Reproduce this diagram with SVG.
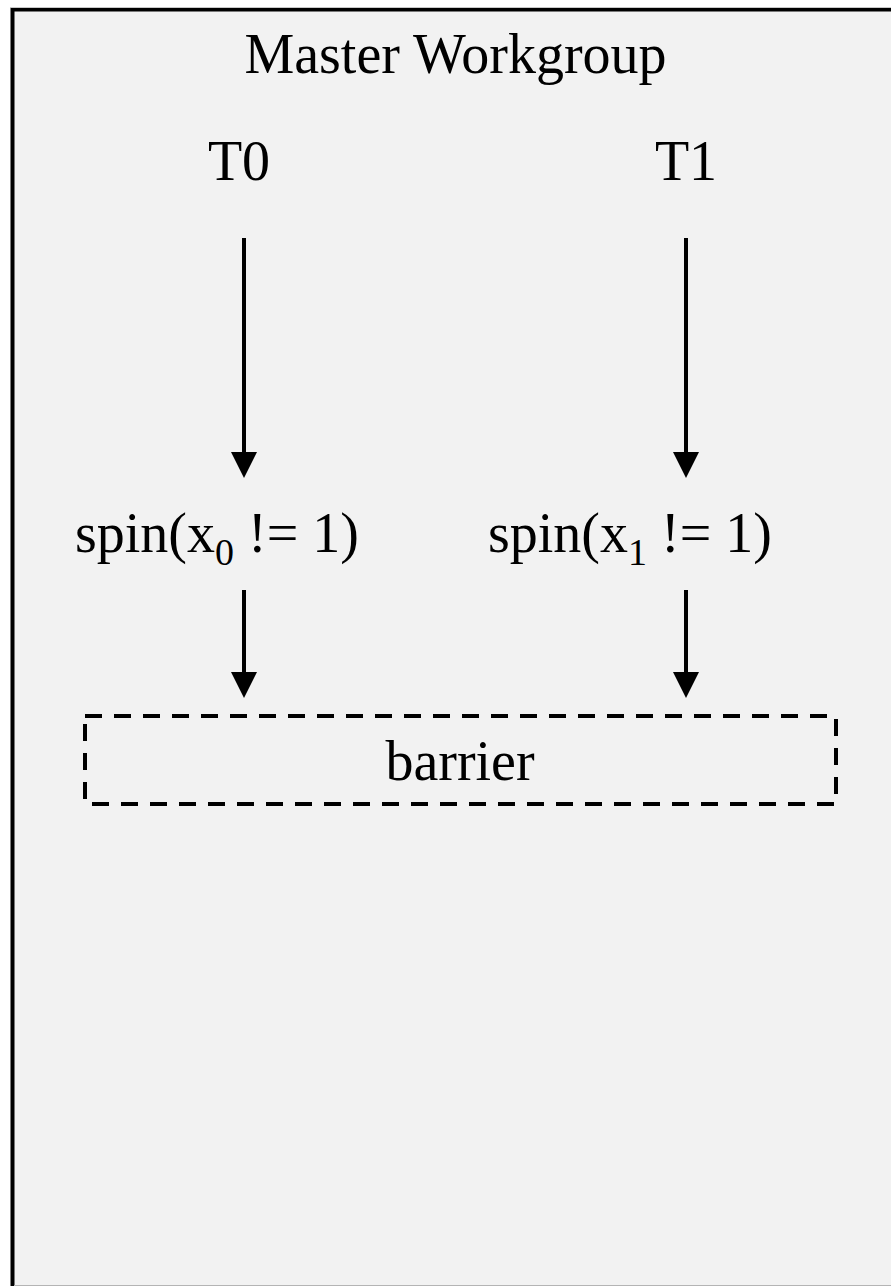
<svg xmlns="http://www.w3.org/2000/svg" width="891" height="1286" viewBox="0 0 891 1286">
  <style>
    .lbl { font-family: "Liberation Serif", "Times New Roman", serif; font-size: 56px; fill: #000; }
    .sub { font-size: 38px; }
    .edge { stroke: #000; stroke-width: 4; fill: none; }
    .frame { fill: #f2f2f2; stroke: #000; stroke-width: 4; }
    .dashed { fill: none; stroke: #000; stroke-width: 4; stroke-dasharray: 17 12; }
  </style>
  <defs>
    <!-- triangular head drawn along +x so orient="auto" turns it with the line -->
    <marker id="arrow" viewBox="0 0 26 26" refX="16" refY="13" markerWidth="26" markerHeight="26" markerUnits="userSpaceOnUse" orient="auto">
      <path d="M0,0 L26,13 L0,26 Z" fill="#000"/>
    </marker>
  </defs>

  <rect width="891" height="1286" fill="#ffffff"/>

  <!-- workgroup frame, open past the right and bottom edges -->
  <g id="master-workgroup">
    <rect class="frame" x="12.5" y="9.5" width="900" height="1300"/>
    <line x1="10" y1="7.5" x2="891" y2="7.5" stroke="#c8c8c8" stroke-width="1"/>
    <line x1="14" y1="1285.5" x2="891" y2="1285.5" stroke="#b4b4b4" stroke-width="1"/>
    <text class="lbl" x="455.5" y="73" text-anchor="middle">Master Workgroup</text>
  </g>

  <g id="thread-t0">
    <text class="lbl" x="239" y="180" text-anchor="middle">T0</text>
  </g>
  <g id="thread-t1">
    <text class="lbl" x="686" y="180" text-anchor="middle">T1</text>
  </g>

  <g id="spin-t0">
    <text class="lbl" x="75" y="552">spin(x<tspan class="sub" dy="13">0</tspan><tspan dy="-13"> != 1)</tspan></text>
  </g>
  <g id="spin-t1">
    <text class="lbl" x="488" y="552">spin(x<tspan class="sub" dy="13">1</tspan><tspan dy="-13"> != 1)</tspan></text>
  </g>

  <g id="barrier">
    <rect class="dashed" x="85" y="716" width="751" height="88"/>
    <text class="lbl" x="460" y="780" text-anchor="middle">barrier</text>
  </g>

  <!-- control flow -->
  <g id="connectors">
    <line class="edge" x1="244" y1="238" x2="244" y2="468" marker-end="url(#arrow)"/>
    <line class="edge" x1="686" y1="238" x2="686" y2="468" marker-end="url(#arrow)"/>
    <line class="edge" x1="244" y1="590" x2="244" y2="688" marker-end="url(#arrow)"/>
    <line class="edge" x1="686" y1="590" x2="686" y2="688" marker-end="url(#arrow)"/>
  </g>
</svg>
